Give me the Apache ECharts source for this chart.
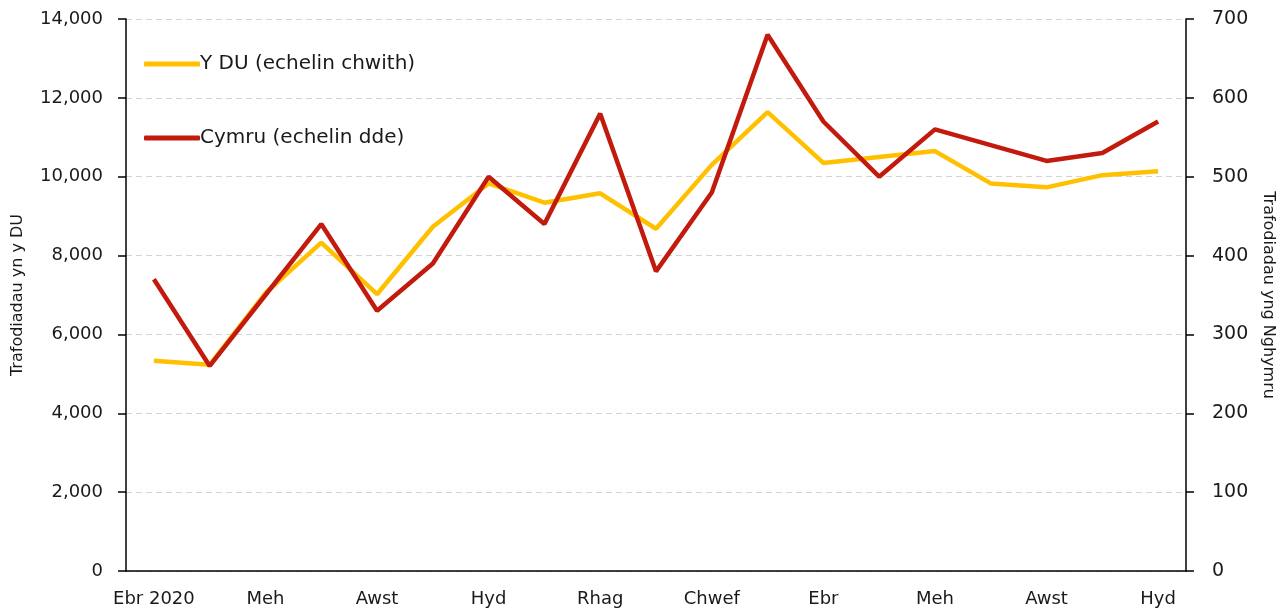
<!DOCTYPE html>
<html>
<head>
<meta charset="utf-8">
<script src="https://cdn.jsdelivr.net/npm/echarts@6/dist/echarts.min.js"></script>
<style>
  html, body { margin: 0; padding: 0; background: #fff; }
  #main { width: 1288px; height: 612px; }
</style>
</head>
<body>
<div id="main"></div>
<script>
// misoedd Ebr 2020 - Hyd 2021
var months = ['Ebr 2020', 'Mai', 'Meh', 'Gorff', 'Awst', 'Medi', 'Hyd', 'Tach', 'Rhag',
  'Ion', 'Chwef', 'Maw', 'Ebr', 'Mai', 'Meh', 'Gorff', 'Awst', 'Medi', 'Hyd'];
var ukValues = [5330, 5230, 7050, 8330, 7020, 8730, 9830, 9340, 9580, 8680,
  10300, 11640, 10350, 10500, 10650, 9830, 9730, 10040, 10140];
var walesValues = [370, 260, 350, 440, 330, 390, 500, 440, 580, 380,
  480, 680, 570, 500, 560, 540, 520, 530, 570];
var leftTicks = { min: 0, max: 14000, interval: 2000 };
var rightTicks = { min: 0, max: 700, interval: 100 };

var fontFam = '"DejaVu Sans", sans-serif';
var textCol = '#1a1a1a';

var myChart = echarts.init(document.getElementById('main'));

var option = {
  animation: false,
  textStyle: { fontFamily: fontFam },
  grid: { left: 126, right: 102, top: 19, bottom: 41, containLabel: false },
  legend: {
    orient: 'vertical',
    left: 139,
    top: 48,
    itemWidth: 56,
    itemHeight: 5,
    itemGap: 52,
    icon: 'roundRect',
    textStyle: { fontSize: 20, lineHeight: 22, color: textCol, fontFamily: fontFam, padding: [0, 0, 0, -5] },
    data: ['Y DU (echelin chwith)', 'Cymru (echelin dde)']
  },
  xAxis: {
    type: 'category',
    data: months,
    boundaryGap: true,
    axisLine: { lineStyle: { color: '#000', width: 1.5 } },
    axisTick: { interval: 0, length: 7, lineStyle: { color: '#000', width: 1.5 } },
    axisLabel: { interval: 1, margin: 19, fontSize: 18, color: textCol, fontFamily: fontFam }
  },
  yAxis: [{
    type: 'value',
    min: leftTicks.min, max: leftTicks.max, interval: leftTicks.interval,
    name: 'Trafodiadau yn y DU',
    nameLocation: 'middle',
    nameGap: 100,
    nameTextStyle: { fontSize: 16, color: textCol, fontFamily: fontFam },
    axisLine: { show: true, lineStyle: { color: '#000', width: 1.5 } },
    axisTick: { show: true, length: 8, lineStyle: { color: '#000', width: 1.5 } },
    axisLabel: {
      fontSize: 18, color: textCol, margin: 23, fontFamily: fontFam,
      formatter: function (v) { return v.toLocaleString('en-GB'); }
    },
    splitLine: { show: true, lineStyle: { color: '#d4d4d4', type: [6, 4], width: 1.2 } }
  }, {
    type: 'value',
    position: 'right',
    min: rightTicks.min, max: rightTicks.max, interval: rightTicks.interval,
    name: 'Trafodiadau yng Nghymru',
    nameLocation: 'middle',
    nameRotate: -90,
    nameGap: 74,
    nameTextStyle: { fontSize: 16, color: textCol, fontFamily: fontFam },
    axisLine: { show: true, lineStyle: { color: '#000', width: 1.5 } },
    axisTick: { show: true, length: 8, lineStyle: { color: '#000', width: 1.5 } },
    axisLabel: { fontSize: 19, color: textCol, margin: 26, fontFamily: fontFam },
    splitLine: { show: false }
  }],
  series: [{
    name: 'Y DU (echelin chwith)',
    type: 'line',
    yAxisIndex: 0,
    data: ukValues,
    symbol: 'none',
    itemStyle: { color: '#FFC000' },
    lineStyle: { color: '#FFC000', width: 4.5 }
  }, {
    name: 'Cymru (echelin dde)',
    type: 'line',
    yAxisIndex: 1,
    data: walesValues,
    symbol: 'none',
    itemStyle: { color: '#C21A0D' },
    lineStyle: { color: '#C21A0D', width: 4.5 }
  }]
};

myChart.setOption(option);
</script>
</body>
</html>
